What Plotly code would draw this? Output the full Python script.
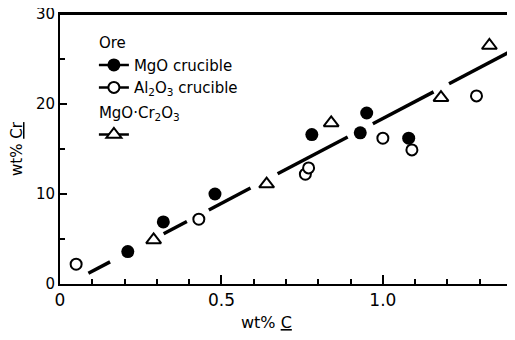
import plotly.graph_objects as go

# MgO crucible (filled circles)
mgo_x = [0.21, 0.32, 0.48, 0.78, 0.93, 0.95, 1.08]
mgo_y = [3.6, 6.9, 10.0, 16.6, 16.8, 19.0, 16.2]
# Al2O3 crucible (open circles)
al_x = [0.05, 0.43, 0.76, 0.77, 1.00, 1.09, 1.29]
al_y = [2.2, 7.2, 12.2, 12.9, 16.2, 14.9, 20.9]
# MgO·Cr2O3 (open triangles)
cr_x = [0.29, 0.64, 0.84, 1.18, 1.33]
cr_y = [4.9, 11.1, 17.9, 20.7, 26.5]

# Fitted line y = slope*x + intercept, drawn as broken segments
fit_slope = 18.85
fit_intercept = -0.46
seg_start = [0.088, 0.321, 0.461, 0.674, 0.969, 1.205]
seg_end = [0.155, 0.393, 0.590, 0.891, 1.157, 1.404]

x_ticks = [0, 0.5, 1.0]
x_tick_labels = ["0", "0.5", "1.0"]
y_ticks = [0, 10, 20, 30]
y_tick_labels = ["0", "10", "20", "30"]

FONT = "DejaVu Sans"

line_x, line_y = [], []
for s, e in zip(seg_start, seg_end):
    line_x += [s, e, None]
    line_y += [fit_slope * s + fit_intercept, fit_slope * e + fit_intercept, None]

fig = go.Figure()

fig.add_trace(go.Scatter(x=line_x, y=line_y, mode="lines",
                         line=dict(color="black", width=3.5),
                         showlegend=False, hoverinfo="skip"))

fig.add_trace(go.Scatter(x=mgo_x, y=mgo_y, mode="markers", showlegend=False,
                         marker=dict(symbol="circle", size=13, color="black")))
fig.add_trace(go.Scatter(x=al_x, y=al_y, mode="markers", showlegend=False,
                         marker=dict(symbol="circle", size=11, color="white",
                                     line=dict(color="black", width=2))))
fig.add_trace(go.Scatter(x=cr_x, y=cr_y, mode="markers", showlegend=False,
                         marker=dict(symbol="triangle-up", size=13, color="white",
                                     line=dict(color="black", width=2))))

LEG_FONT = dict(size=15, family=FONT, color="black")

# legend entries
fig.add_trace(go.Scatter(x=[None], y=[None], mode="lines+markers",
                         name="MgO crucible", legendgroup="ore",
                         legendgrouptitle=dict(text="Ore", font=LEG_FONT),
                         line=dict(color="black", width=2.5),
                         marker=dict(symbol="circle", size=13, color="black")))
fig.add_trace(go.Scatter(x=[None], y=[None], mode="lines+markers",
                         name="Al<sub>2</sub>O<sub>3</sub> crucible", legendgroup="ore",
                         line=dict(color="black", width=2.5),
                         marker=dict(symbol="circle", size=11, color="white",
                                     line=dict(color="black", width=2))))
fig.add_trace(go.Scatter(x=[None], y=[None], mode="lines+markers",
                         name=" ", legendgroup="cr",
                         legendgrouptitle=dict(text="MgO·Cr<sub>2</sub>O<sub>3</sub>",
                                               font=LEG_FONT),
                         line=dict(color="black", width=2.5),
                         marker=dict(symbol="triangle-up", size=13, color="white",
                                     line=dict(color="black", width=2))))

fig.update_layout(
    width=507, height=332,
    margin=dict(l=52, r=3, t=6, b=56),
    paper_bgcolor="white", plot_bgcolor="white",
    font=dict(family=FONT, size=16, color="black"),
    legend=dict(x=0.075, y=0.955, xanchor="left", yanchor="top",
                bgcolor="rgba(0,0,0,0)", traceorder="grouped",
                tracegroupgap=2,
                font=LEG_FONT),
    xaxis=dict(range=[0, 1.4], tickvals=x_ticks, ticktext=x_tick_labels,
               automargin=False,
               showgrid=False, zeroline=False, showline=True, linecolor="black",
               linewidth=2, mirror=True, ticks="inside", ticklen=9, tickwidth=1.5,
               tickcolor="black", tickfont=dict(size=17),
               minor=dict(dtick=0.1, ticks="inside", ticklen=5, tickwidth=1.5,
                          tickcolor="black", showgrid=False)),
    yaxis=dict(range=[0, 30], tickvals=y_ticks, ticktext=y_tick_labels,
               automargin=False, ticklabeloverflow="allow",
               showgrid=False, zeroline=False, showline=True, linecolor="black",
               linewidth=2, ticks="inside", ticklen=7, tickwidth=1.5,
               tickcolor="black", tickfont=dict(size=15),
               title=dict(text="wt% <u>Cr</u>", font=dict(size=15), standoff=23),
               minor=dict(dtick=5, ticks="inside", ticklen=5, tickwidth=1.5,
                          tickcolor="black", showgrid=False)),
    shapes=[dict(type="line", xref="paper", yref="paper", x0=0, x1=1, y0=1, y1=1,
                 line=dict(color="black", width=2))],
    annotations=[dict(text="wt% <u>C</u>", xref="paper", yref="paper",
                      x=(266 - 60) / 452, y=-0.144, xanchor="center", yanchor="middle",
                      showarrow=False, font=dict(size=16, family=FONT, color="black"))],
)

fig.write_html("out.html")
